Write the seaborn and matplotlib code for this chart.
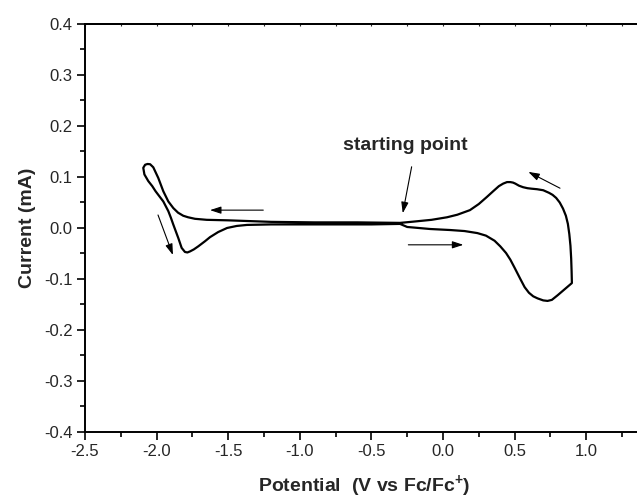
import matplotlib
matplotlib.use("Agg")
import matplotlib.pyplot as plt
import seaborn as sns
import pandas as pd

# Cyclic voltammogram: scan starts at -0.30 V, runs positive to 0.90 V,
# back negative to -2.09 V, then returns to the start.
potential = [
    -0.30, -0.25, -0.09, 0.05, 0.15, 0.24, 0.30, 0.36, 0.40, 0.44,
    0.47, 0.50, 0.54, 0.57, 0.60, 0.63, 0.66, 0.70, 0.73, 0.76,
    0.80, 0.85, 0.90,
    0.898, 0.895, 0.890, 0.882, 0.872, 0.858, 0.838, 0.815, 0.790, 0.765,
    0.740, 0.700, 0.657, 0.620, 0.590, 0.559, 0.530, 0.505, 0.489, 0.470,
    0.447, 0.420, 0.390, 0.350, 0.307, 0.250, 0.188, 0.100, 0.028, -0.080,
    -0.209, -0.30,
    -0.60, -0.90, -1.20, -1.50, -1.65, -1.732, -1.78, -1.814, -1.85, -1.883,
    -1.918, -1.953, -1.988, -2.023, -2.045, -2.063,
    -2.080, -2.093, -2.085, -2.058, -2.030, -2.007, -1.980, -1.953, -1.918,
    -1.900, -1.883, -1.848, -1.825, -1.802, -1.785, -1.767, -1.740, -1.709,
    -1.662, -1.627, -1.570, -1.508, -1.440, -1.369, -1.20, -1.00, -0.70,
    -0.50, -0.30,
]
current = [
    0.008, 0.002, -0.002, -0.004, -0.006, -0.010, -0.015, -0.025, -0.036, -0.049,
    -0.062, -0.078, -0.100, -0.116, -0.127, -0.134, -0.138, -0.142, -0.143, -0.141,
    -0.132, -0.120, -0.108,
    -0.085, -0.060, -0.035, -0.012, 0.008, 0.024, 0.038, 0.050, 0.059, 0.065,
    0.069, 0.074, 0.076, 0.077, 0.078, 0.080, 0.083, 0.087, 0.089, 0.090,
    0.090, 0.087, 0.082, 0.072, 0.061, 0.047, 0.035, 0.026, 0.021, 0.016,
    0.0124, 0.010,
    0.011, 0.011, 0.012, 0.015, 0.016, 0.018, 0.021, 0.024, 0.030, 0.039,
    0.052, 0.072, 0.098, 0.119, 0.125, 0.1255,
    0.124, 0.118, 0.105, 0.092, 0.082, 0.072, 0.062, 0.052, 0.033,
    0.020, 0.0065, -0.020, -0.039, -0.047, -0.048, -0.046, -0.042, -0.036,
    -0.026, -0.018, -0.008, 0.000, 0.004, 0.006, 0.007, 0.007, 0.007,
    0.007, 0.008,
]

# Scan-direction arrows: (tail x, tail y, head x, head y)
scan_arrows = [
    (-1.255, 0.035, -1.627, 0.035),
    (-1.990, 0.0255, -1.886, -0.053),
    (-0.242, -0.033, 0.142, -0.033),
    (0.817, 0.078, 0.596, 0.110),
]
start_label = "starting point"
start_text_xy = (-0.26, 0.162)
start_arrow = (-0.219, 0.120, -0.281, 0.029)

x_ticks = [-2.5, -2.0, -1.5, -1.0, -0.5, 0.0, 0.5, 1.0]
y_ticks = [-0.4, -0.3, -0.2, -0.1, 0.0, 0.1, 0.2, 0.3, 0.4]

sns.set_theme(style="ticks")
plt.rcParams["font.family"] = ["Liberation Sans", "DejaVu Sans"]
plt.rcParams["mathtext.fontset"] = "custom"
plt.rcParams["mathtext.rm"] = "Liberation Sans"
plt.rcParams["mathtext.bf"] = "Liberation Sans:bold"

df = pd.DataFrame({"Potential": potential, "Current": current})

fig = plt.figure(figsize=(6.37, 5.03), dpi=100)
ax = fig.add_axes([0.1334, 0.1412, 0.8768, 0.8111])

sns.lineplot(data=df, x="Potential", y="Current", sort=False, estimator=None,
             color="black", linewidth=1.6, ax=ax)

arrow_style = dict(arrowstyle="-|>,head_length=0.55,head_width=0.18",
                   color="black", lw=0.8, shrinkA=0, shrinkB=0)
for x0, y0, x1, y1 in scan_arrows:
    ax.annotate("", xy=(x1, y1), xytext=(x0, y0), arrowprops=arrow_style)
ax.annotate("", xy=start_arrow[2:], xytext=start_arrow[:2], arrowprops=arrow_style)
ax.text(start_text_xy[0], start_text_xy[1], start_label, fontsize=14,
        fontweight="bold", ha="center", va="center")

ax.set_xlim(-2.5, 1.4)
ax.set_ylim(-0.4, 0.4)
ax.set_xticks(x_ticks)
ax.set_yticks(y_ticks)
ax.set_xticklabels([f"{v:.1f}" for v in x_ticks])
ax.set_yticklabels([f"{v:.1f}" for v in y_ticks])
ax.set_xticks([v + 0.25 for v in x_ticks], minor=True)
ax.set_yticks([v + 0.05 for v in y_ticks[:-1]], minor=True)

ax.tick_params(which="major", direction="out", length=6, width=1.2,
               labelsize=12, color="black", pad=3)
ax.tick_params(which="minor", direction="out", length=3.5, width=1.2,
               color="black")

for side in ("left", "bottom", "top"):
    ax.spines[side].set_linewidth(1.4)
    ax.spines[side].set_color("black")
ax.spines["right"].set_visible(False)

# faint inward ticks along the top edge
top = ax.secondary_xaxis("top")
top.set_xticks([v for v in x_ticks] + [v + 0.25 for v in x_ticks])
top.tick_params(direction="in", length=1.5, width=0.8, labelsize=0)
top.set_xticklabels([])
top.spines["top"].set_linewidth(1.4)

ax.set_xlabel("Potential  (V vs Fc/Fc$^{\\mathbf{+}}$)", fontsize=14,
              fontweight="bold", labelpad=10)
ax.set_ylabel("Current (mA)", fontsize=14, fontweight="bold", labelpad=6)

fig.savefig("out.png", dpi=100)
